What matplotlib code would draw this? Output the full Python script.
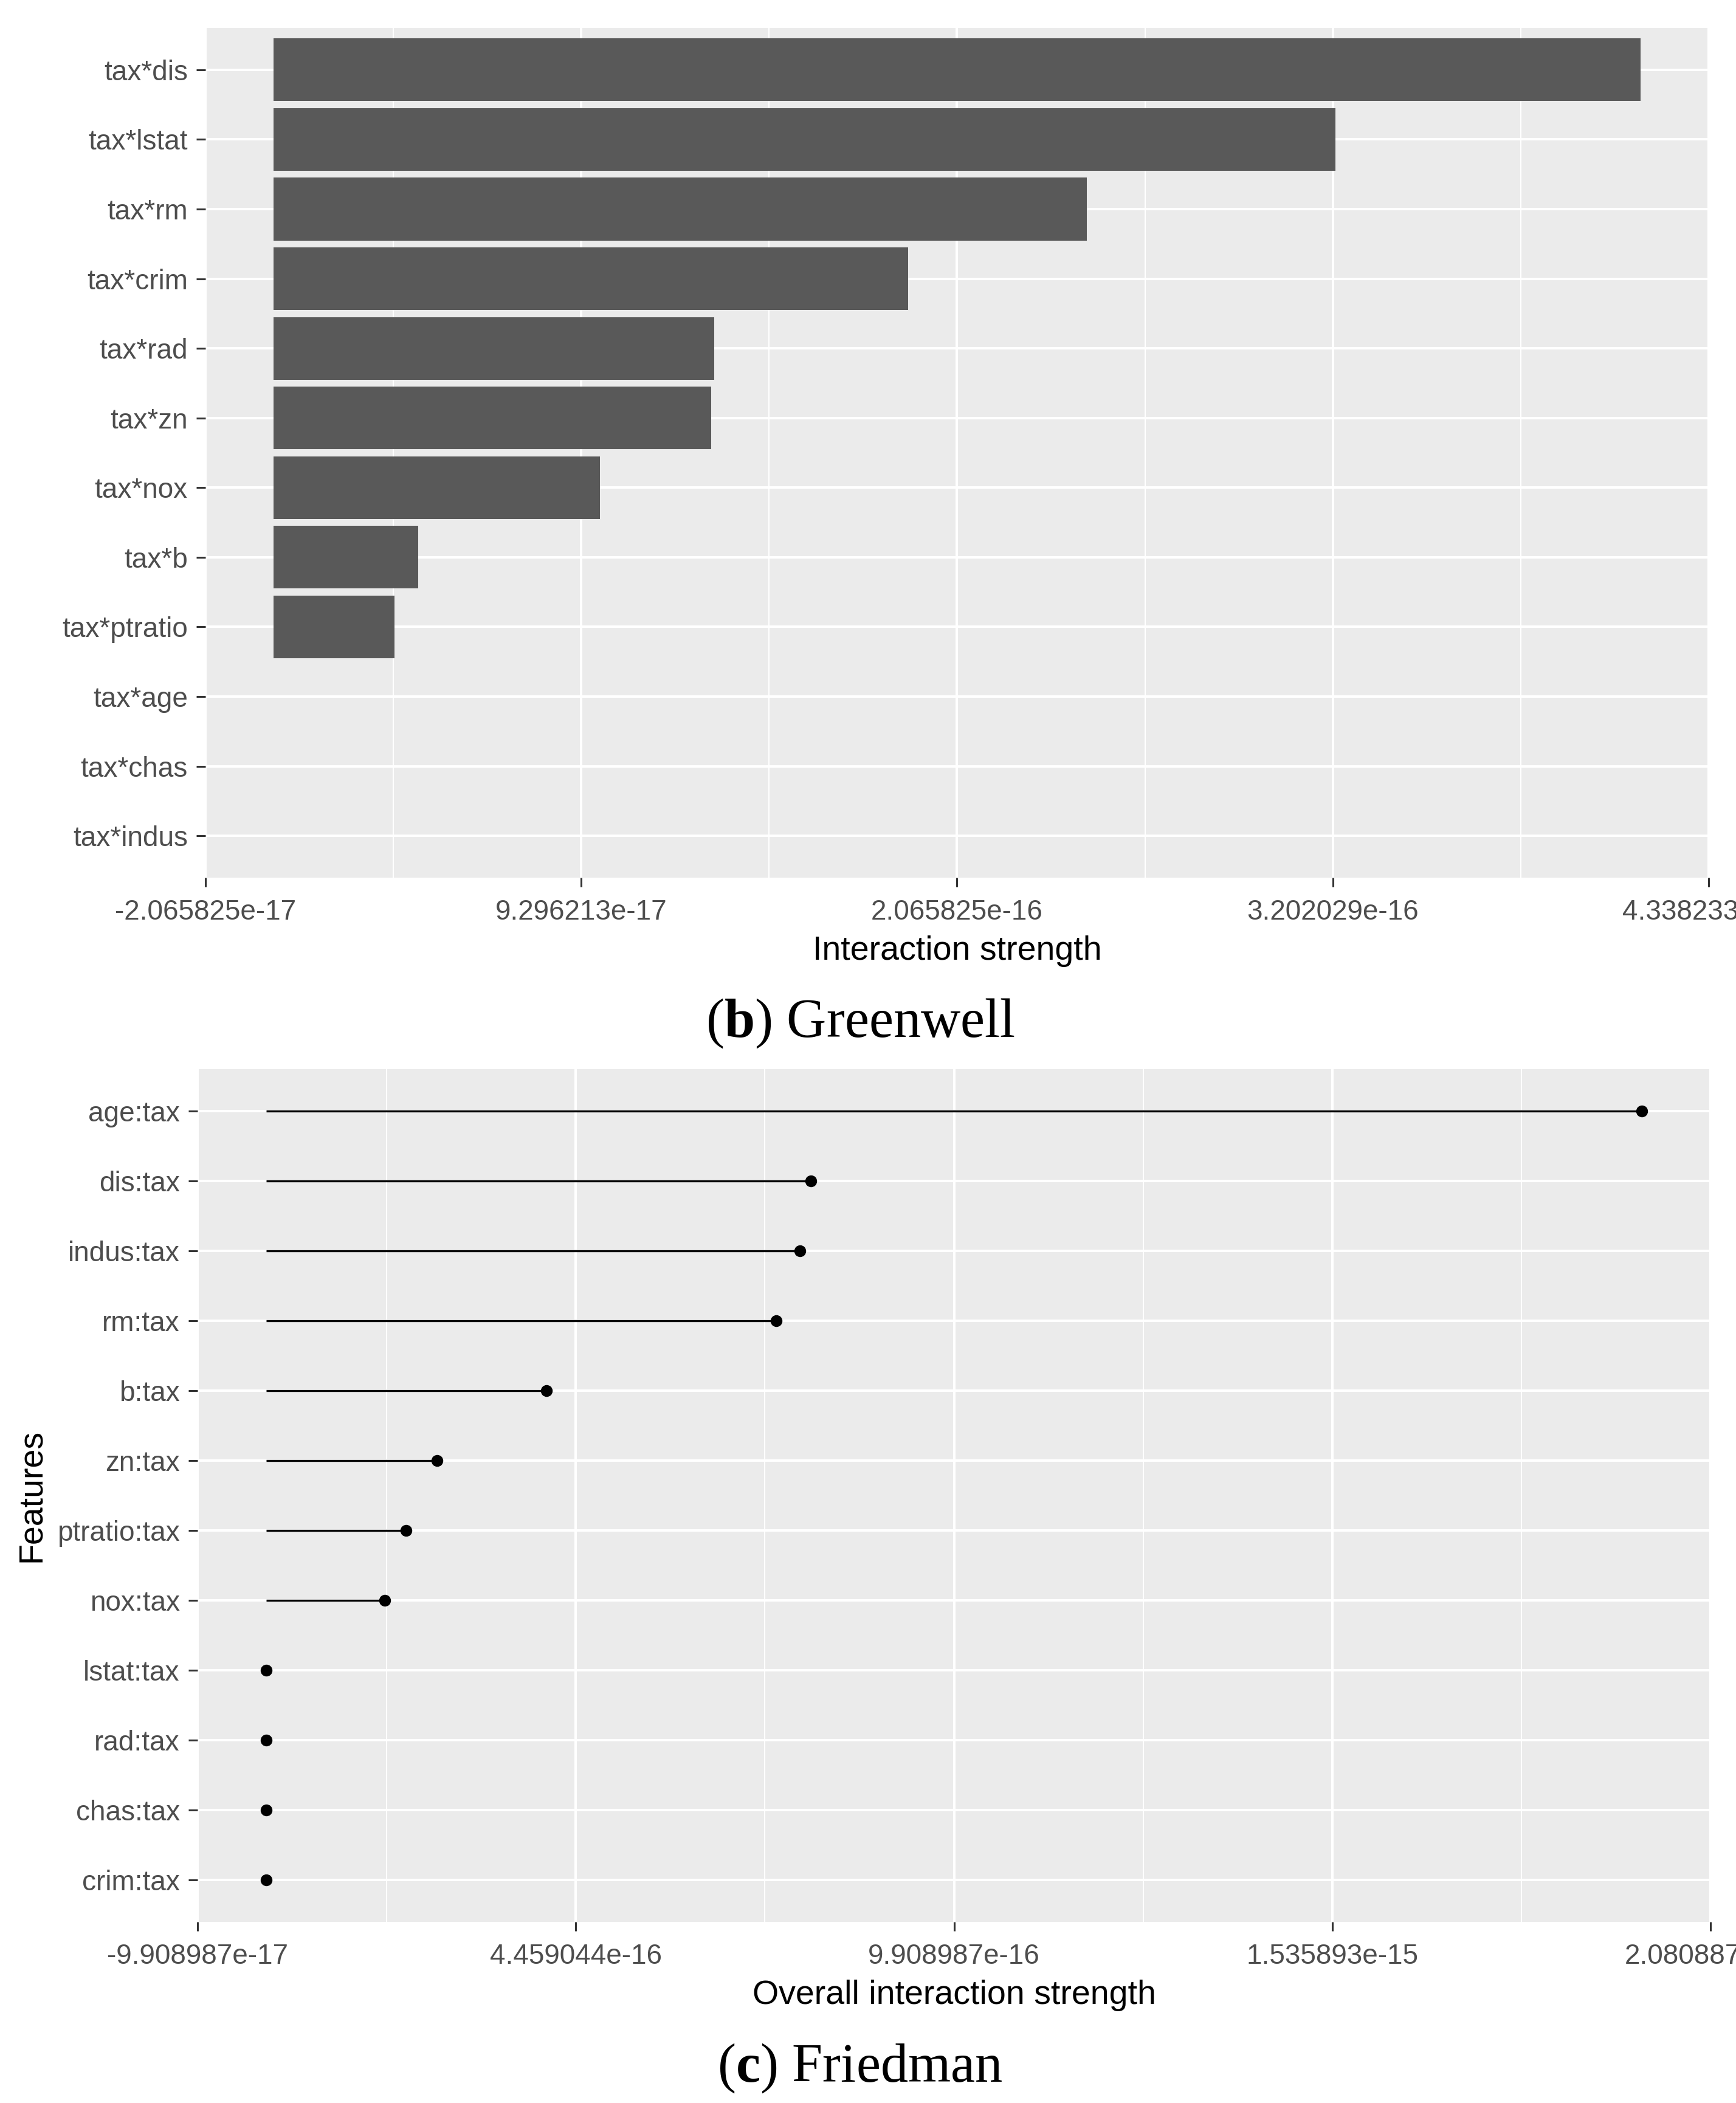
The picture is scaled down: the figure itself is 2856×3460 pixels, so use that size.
import matplotlib
matplotlib.use("Agg")
import matplotlib.pyplot as plt
import numpy as np

# ---- data ----
green_labels = ["tax*dis", "tax*lstat", "tax*rm", "tax*crim", "tax*rad", "tax*zn",
                "tax*nox", "tax*b", "tax*ptratio", "tax*age", "tax*chas", "tax*indus"]
green_values = [4.13165e-16, 3.209e-16, 2.459e-16, 1.917e-16, 1.331e-16, 1.323e-16,
                0.987e-16, 4.374e-17, 3.658e-17, 0.0, 0.0, 0.0]
green_ticks = [-2.065825e-17, 9.296213e-17, 2.065825e-16, 3.202029e-16, 4.338233e-16]
green_ticklabels = ["-2.065825e-17", "9.296213e-17", "2.065825e-16", "3.202029e-16", "4.338233e-16"]

fried_labels = ["age:tax", "dis:tax", "indus:tax", "rm:tax", "b:tax", "zn:tax",
                "ptratio:tax", "nox:tax", "lstat:tax", "rad:tax", "chas:tax", "crim:tax"]
fried_values = [1.9817974e-15, 7.843e-16, 7.69e-16, 7.344e-16, 4.034e-16, 2.456e-16,
                2.009e-16, 1.703e-16, 0.0, 0.0, 0.0, 0.0]
fried_ticks = [-9.908987e-17, 4.459044e-16, 9.908987e-16, 1.535893e-15, 2.080887e-15]
fried_ticklabels = ["-9.908987e-17", "4.459044e-16", "9.908987e-16", "1.535893e-15", "2.080887e-15"]

# ---- style ----
plt.rcParams['font.family'] = ['Liberation Sans', 'DejaVu Sans']
plt.rcParams['mathtext.fontset'] = 'custom'
plt.rcParams['mathtext.rm'] = 'Liberation Serif'
plt.rcParams['mathtext.bf'] = 'Liberation Serif:bold'

W, H = 2856, 3460
DPI = 100
fig = plt.figure(figsize=(W / DPI, H / DPI), dpi=DPI)
fig.patch.set_facecolor("white")

PANEL = "#EBEBEB"
TICKC = "#4D4D4D"
TICK_FS = 33
TITLE_FS = 40


def style_axis(ax, ticks, ticklabels, labels):
    ax.set_facecolor(PANEL)
    for s in ax.spines.values():
        s.set_visible(False)
    n = len(labels)
    ax.set_ylim(n - 1 + 0.6, -0.6)
    ax.set_yticks(range(n))
    ax.set_yticklabels(labels)
    ax.set_xlim(ticks[0], ticks[-1])
    ax.set_xticks(ticks)
    ax.set_xticklabels(ticklabels)
    minors = [(ticks[i] + ticks[i + 1]) / 2 for i in range(len(ticks) - 1)]
    ax.set_xticks(minors, minor=True)
    ax.tick_params(axis='x', which='minor', length=0)
    ax.grid(True, which='major', color='white', linewidth=2.9, zorder=0)
    ax.grid(True, which='minor', axis='x', color='white', linewidth=1.5, zorder=0)
    ax.set_axisbelow(True)
    ax.tick_params(axis='both', which='major', length=11, width=2.2, color='#333333',
                   labelcolor=TICKC, labelsize=TICK_FS)
    ax.tick_params(axis='x', which='major', pad=14)
    ax.tick_params(axis='y', which='major', pad=10)


# ---- top: Greenwell bar chart ----
ax1 = fig.add_axes([338 / W, 1 - 1444 / H, (2811 - 338) / W, (1444 - 46) / H])
style_axis(ax1, green_ticks, green_ticklabels, green_labels)
ax1.barh(range(len(green_labels)), green_values, height=0.9, color="#595959", zorder=2)
ax1.set_xlabel("Interaction strength", fontsize=TITLE_FS, color="black", labelpad=12)

# ---- bottom: Friedman lollipop ----
ax2 = fig.add_axes([325 / W, 1 - 3162 / H, (2814 - 325) / W, (3162 - 1759) / H])
style_axis(ax2, fried_ticks, fried_ticklabels, fried_labels)
ypos = np.arange(len(fried_labels))
ax2.hlines(ypos, 0, fried_values, color="black", linewidth=2.4, zorder=2)
ax2.plot(fried_values, ypos, 'o', color="black", markersize=13, zorder=3)
ax2.set_xlabel("Overall interaction strength", fontsize=TITLE_FS, color="black", labelpad=12)
fig.text(52 / W, 1 - 2460 / H, "Features", rotation=90, ha='center', va='center',
         fontsize=TITLE_FS, color="black")

# ---- captions ----
fig.text(1415 / W, 1 - 1684 / H, r"($\mathbf{b}$) Greenwell", ha='center', va='center',
         fontsize=65, family='Liberation Serif', color='black')
fig.text(1415 / W, 1 - 3403 / H, r"($\mathbf{c}$) Friedman", ha='center', va='center',
         fontsize=65, family='Liberation Serif', color='black')

fig.savefig("out.png", dpi=DPI, facecolor="white")
